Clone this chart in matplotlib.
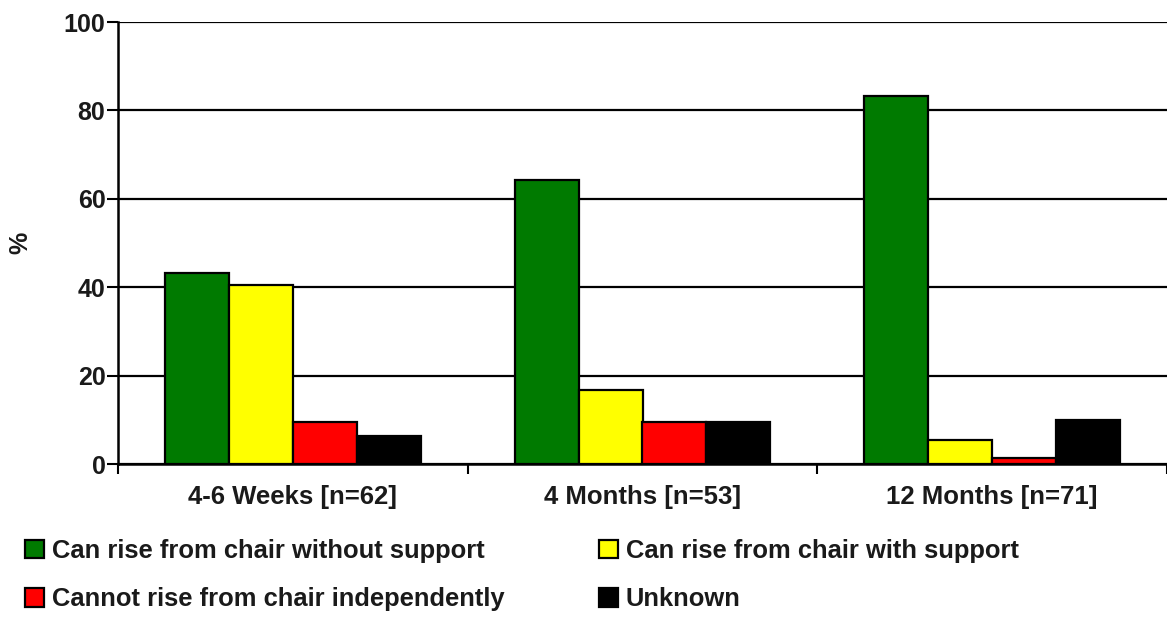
import matplotlib
matplotlib.use("Agg")
import matplotlib.pyplot as plt
import numpy as np

plt.rcParams['font.family'] = ['Liberation Sans', 'DejaVu Sans']
plt.rcParams['font.weight'] = 'bold'

groups = ["4-6 Weeks [n=62]", "4 Months [n=53]", "12 Months [n=71]"]
series_names = [
    "Can rise from chair without support",
    "Can rise from chair with support",
    "Cannot rise from chair independently",
    "Unknown",
]
without_support = [43.3, 64.2, 83.2]
with_support = [40.5, 16.8, 5.4]
cannot_rise = [9.4, 9.4, 1.3]
unknown = [6.3, 9.6, 10.0]
y_ticks = [0, 20, 40, 60, 80, 100]

series = [without_support, with_support, cannot_rise, unknown]
colors = ["#007A00", "#FFFF00", "#FF0000", "#000000"]

fig = plt.figure(figsize=(11.67, 6.17), dpi=100)
ax = fig.add_axes([118 / 1167, 1 - 464 / 617, 1 - 118 / 1167, (464 - 22) / 617])

x = np.arange(len(groups))
bw = 0.183
handles = []
for i, (vals, col) in enumerate(zip(series, colors)):
    h = ax.bar(x + (i - 1.5) * bw, vals, width=bw, color=col,
               edgecolor="black", linewidth=1.6, zorder=3, label=series_names[i])
    handles.append(h)

ax.set_xlim(-0.5, 2.5)
ax.set_ylim(0, 100)
ax.set_yticks(y_ticks)
ax.yaxis.grid(True, color="black", linewidth=1.6, zorder=0)
ax.set_axisbelow(True)
for s in ["top", "right"]:
    ax.spines[s].set_visible(False)
ax.spines["left"].set_linewidth(1.8)
ax.spines["bottom"].set_linewidth(1.8)

# category boundaries get tick marks, labels sit at the group centres
ax.set_xticks([-0.5, 0.5, 1.5, 2.5])
ax.set_xticklabels([])
ax.set_xticks(x, minor=True)
ax.set_xticklabels(groups, minor=True)
ax.tick_params(axis="x", which="major", length=7, width=1.5, direction="out")
ax.tick_params(axis="x", which="minor", length=0, pad=15, labelsize=18.5)
ax.tick_params(axis="y", length=8, width=1.5, labelsize=18, pad=1)
for lab in ax.get_xticklabels(minor=True) + ax.get_yticklabels():
    lab.set_fontweight("bold")
    lab.set_color("#1a1a1a")

fig.text(20 / 1167, 1 - 243 / 617, "%", rotation=90, ha="center", va="center",
         fontsize=18, fontweight="bold", color="#1a1a1a")

order = [0, 2, 1, 3]
leg = fig.legend([handles[i] for i in order], [series_names[i] for i in order],
                 ncol=2, loc="upper left", bbox_to_anchor=(25 / 1167, 1 - 539 / 617),
                 frameon=False, fontsize=18.4, handlelength=0.75, handleheight=0.75,
                 handletextpad=0.3, columnspacing=3.7, labelspacing=0.95,
                 borderaxespad=0, borderpad=0)
for t in leg.get_texts():
    t.set_fontweight("bold")
    t.set_color("#1a1a1a")

fig.savefig("out.png", dpi=100, facecolor="white")
